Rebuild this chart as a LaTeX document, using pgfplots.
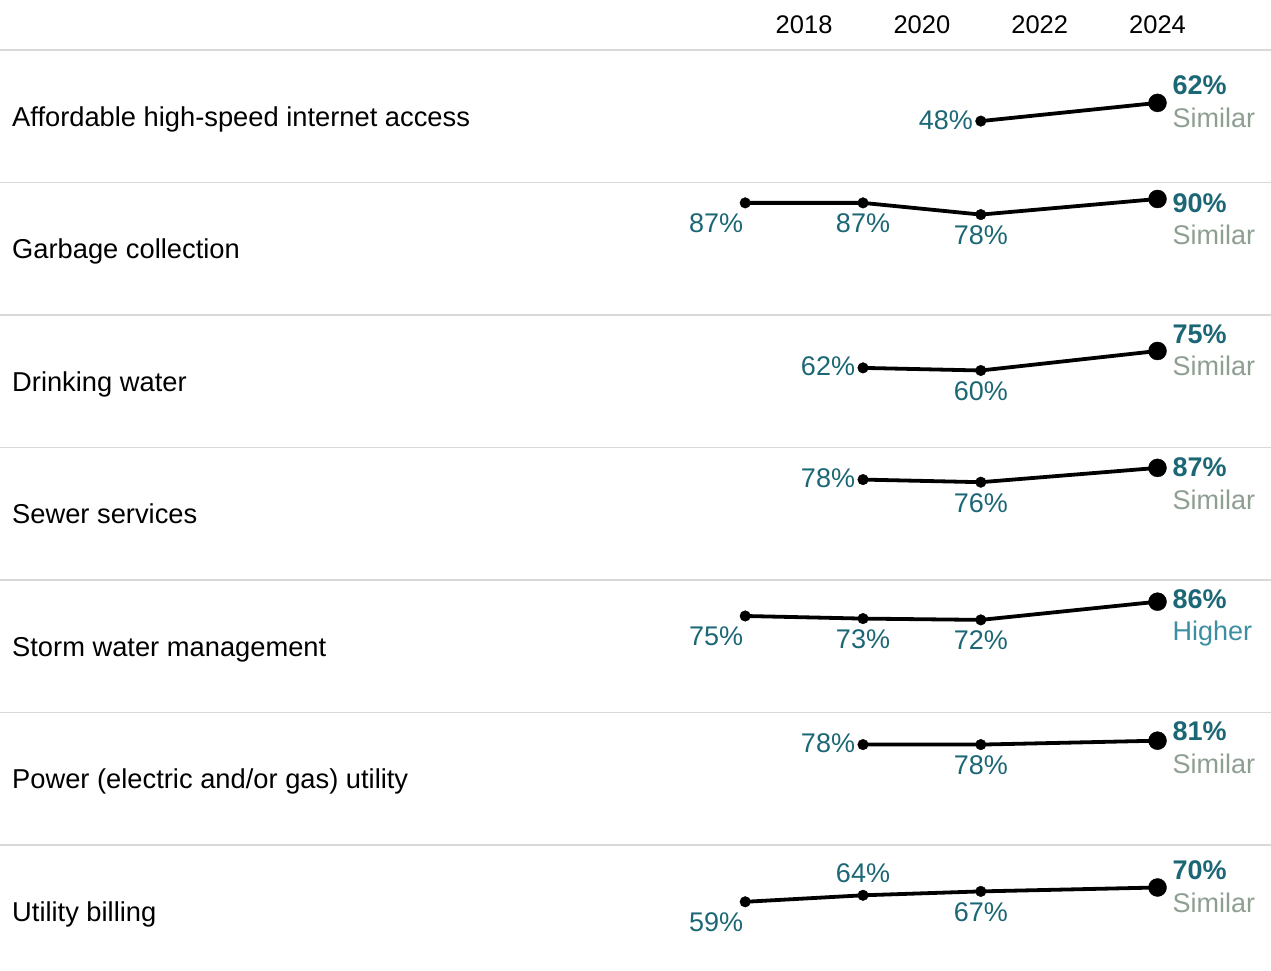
\documentclass[border=0pt]{standalone}
\usepackage{fontspec}
\setmainfont{Liberation Sans}
\usepackage{pgfplots}
\usepackage{pgfplotstable}
\pgfplotsset{compat=1.18}
\definecolor{valcol}{HTML}{1C6775}
\definecolor{simcol}{HTML}{8E9E91}
\definecolor{highcol}{HTML}{3C8FA0}
\definecolor{sepcol}{HTML}{D9D9D9}
\newcommand{\labfont}{\fontsize{27.3pt}{32pt}\selectfont}
\newcommand{\valfont}{\fontsize{27pt}{32pt}\selectfont}
\newcommand{\statfont}{\fontsize{27pt}{32pt}\selectfont}
\newcommand{\yearfont}{\fontsize{25.5pt}{30pt}\selectfont}

% dx, dy: offset of the label's base (centre) from the point, in pt
\pgfplotstableread{
x y dx dy
2021 48 -35 -8
2024 62 0 0
}\tA
\pgfplotstableread{
x y dx dy
2017 87 -29 -30
2019 87 0 -30
2021 78 0 -30
2024 90 0 0
}\tB
\pgfplotstableread{
x y dx dy
2019 62 -35 -8
2021 60 0 -30
2024 75 0 0
}\tC
\pgfplotstableread{
x y dx dy
2019 78 -35 -8
2021 76 0 -30
2024 87 0 0
}\tD
\pgfplotstableread{
x y dx dy
2017 75 -29 -30
2019 73 0 -30
2021 72 0 -30
2024 86 0 0
}\tE
\pgfplotstableread{
x y dx dy
2019 78 -35 -8
2021 78 0 -30
2024 81 0 0
}\tF
\pgfplotstableread{
x y dx dy
2017 59 -29 -30
2019 64 0 13
2021 67 0 -30
2024 70 0 0
}\tG

\pgfplotsset{
  /pgf/number format/assume math mode=true,
  rowstyle/.style={
    width=1271pt, height=132.5pt, scale only axis,
    anchor=south west,
    xmin=2004.348, xmax=2025.927, ymin=0.77, ymax=102.69,
    clip=false, axis line style={draw=none},
    ytick=\empty, xtick=\empty, major tick length=0pt,
    xticklabel pos=upper,
    xticklabel style={font=\yearfont, anchor=base, yshift=16.7pt, inner sep=0pt},
  },
}

% #1 bottom, #2 table, #3 label, #4 status, #5 status colour, #6 extra options,
% #7 yshift of the 2024 value, #8 yshift of the status word
\newcommand{\rowaxis}[8]{%
\begin{axis}[rowstyle, at={(0pt,#1)}, #6]
  \draw[sepcol, line width=1.4pt] (rel axis cs:0,1) -- (rel axis cs:1,1);
  \node[anchor=base west, xshift=12pt, yshift=-10pt, inner sep=0pt, font=\labfont]
    at (rel axis cs:0,0.5) {#3};
  \addplot[black, line width=3.8pt, line join=round, mark=none] table[x=x,y=y]{#2};
  \addplot[only marks, mark=*, mark size=5.3pt, black,
    restrict x to domain=2000:2022.5,
    point meta=y,
    nodes near coords={\pgfmathprintnumber{\pgfplotspointmeta}\%},
    visualization depends on={\thisrow{dx}\as\ldx},
    visualization depends on={\thisrow{dy}\as\ldy},
    every node near coord/.append style={anchor=base, xshift=\ldx pt, yshift=\ldy pt,
      text=valcol, font=\valfont, inner sep=0pt}] table[x=x,y=y]{#2};
  \addplot[only marks, mark=*, mark size=9pt, black,
    restrict x to domain=2023:2025,
    point meta=y,
    nodes near coords={\textbf{\pgfmathprintnumber{\pgfplotspointmeta}\%}},
    every node near coord/.append style={anchor=base west, xshift=15pt, yshift=#7pt,
      text=valcol, font=\valfont, inner sep=0pt}] table[x=x,y=y]{#2};
  \addplot[draw=none, mark=none,
    restrict x to domain=2023:2025,
    nodes near coords={#4},
    every node near coord/.append style={anchor=base west, xshift=15pt, yshift=#8pt,
      text=#5, font=\statfont, inner sep=0pt}] table[x=x,y=y]{#2};
\end{axis}}

\begin{document}
\begin{tikzpicture}
\useasboundingbox (0pt,0pt) rectangle (1271pt,971pt);
\rowaxis{788.5pt}{\tA}{Affordable high-speed internet access}{Similar}{simcol}{xtick={2018,2020,2022,2024}, xticklabels={2018,2020,2022,2024}}{8}{-24.5}
\rowaxis{656pt}{\tB}{Garbage collection}{Similar}{simcol}{}{-13.4}{-46}
\rowaxis{523.5pt}{\tC}{Drinking water}{Similar}{simcol}{}{7.5}{-25}
\rowaxis{391pt}{\tD}{Sewer services}{Similar}{simcol}{}{-9}{-41.5}
\rowaxis{258.5pt}{\tE}{Storm water management}{Higher}{highcol}{}{-6.7}{-39.2}
\rowaxis{126pt}{\tF}{Power (electric and/or gas) utility}{Similar}{simcol}{}{0}{-32.5}
\rowaxis{-6.5pt}{\tG}{Utility billing}{Similar}{simcol}{}{7.5}{-25}
\end{tikzpicture}
\end{document}
